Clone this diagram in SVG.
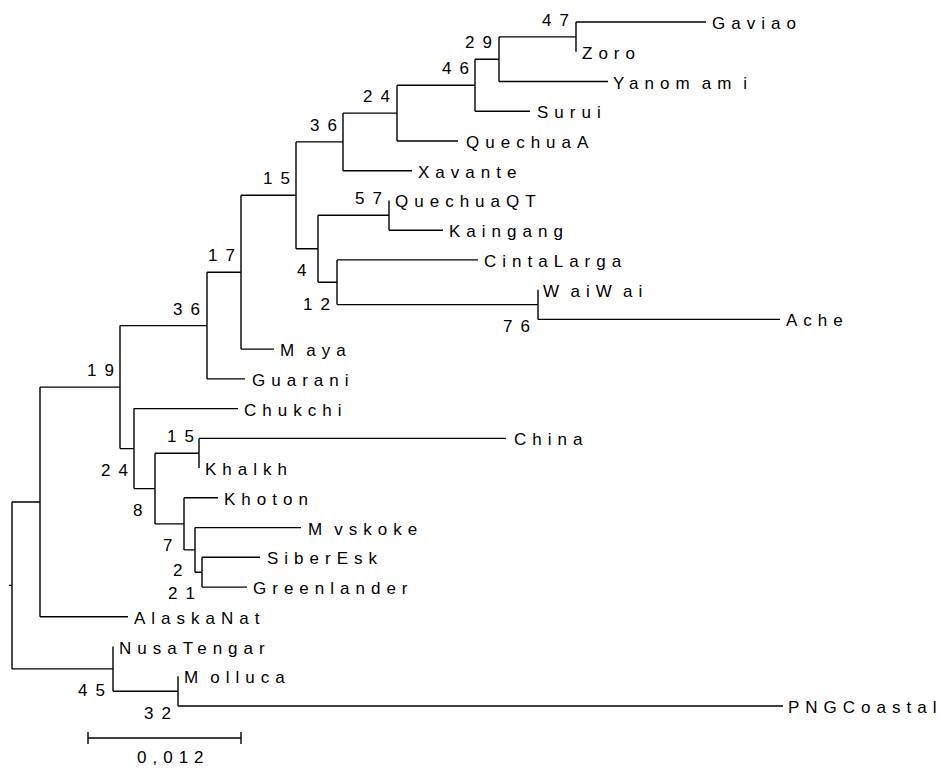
<svg xmlns="http://www.w3.org/2000/svg" width="943" height="770" viewBox="0 0 943 770">
<style>
.t{font-family:"Liberation Sans",Arial,sans-serif;font-size:17px;letter-spacing:6px;fill:#000}
.b{font-family:"Liberation Sans",Arial,sans-serif;font-size:17px;letter-spacing:8px;fill:#000}
.e{fill:none;stroke:#000;stroke-width:1.4}
</style>
<rect width="943" height="770" fill="#fff"/>
<g id="connectors">
<path class="e" d="M9,585.4H12 M12,502V668.9
M12,502H40 M40,387.1V616.8 M40,616.8H128
M40,387.1H120 M120,325.6V448.6
M120,325.6H207 M207,272.2V378.9 M207,378.9H245
M207,272.2H241 M241,195.3V349.1 M241,349.1H274
M241,195.3H296 M296,141.9V248.8
M296,141.9H343 M343,113.1V170.7 M343,170.7H412
M343,113.1H397 M397,85.2V141 M397,141H458
M397,85.2H475 M475,59.2V111.2 M475,111.2H530
M475,59.2H499 M499,36.9V81.5 M499,81.5H608
M499,36.9H576 M576,22V51.7 M576,22H706
M296,248.8H318 M318,215.3V282.2
M318,215.3H389 M389,200.4V230.2 M389,230.2H443
M318,282.2H337 M337,259.9V304.6 M337,259.9H478
M337,304.6H538 M538,289.7V319.4 M538,319.4H780
M120,448.6H134 M134,408.6V488.6 M134,408.6H238
M134,488.6H155 M155,453.2V523.9
M155,453.2H199 M199,438.4V468.1 M199,438.4H506
M155,523.9H184 M184,497.8V549.9 M184,497.8H218
M184,549.9H195 M195,527.6V572.2 M195,527.6H301
M195,572.2H202 M202,557.3V587.1 M202,557.3H260 M202,587.1H247
M12,668.9H113 M113,646.5V691.2
M113,691.2H178 M178,676.3V706 M178,706H783"/>
</g>
<g id="scale-bar">
<path class="e" d="M88,738H241 M88,732V744 M241,732V744"/>
<text class="t" x="137" y="763">0,012</text>
</g>
<g id="tip-Gaviao"><text class="t" x="712" y="29">Gaviao</text></g>
<g id="tip-Zoro"><text class="t" x="582" y="58.7">Zoro</text></g>
<g id="tip-Yanomami"><text class="t" x="613" y="88.5" dx="0 0 0 0 0 6 0 6">Yanomami</text></g>
<g id="tip-Surui"><text class="t" x="537" y="118.2">Surui</text></g>
<g id="tip-QuechuaA"><text class="t" x="466" y="148">QuechuaA</text></g>
<g id="tip-Xavante"><text class="t" x="418" y="177.7">Xavante</text></g>
<g id="tip-QuechuaQT"><text class="t" x="395" y="207.4">QuechuaQT</text></g>
<g id="tip-Kaingang"><text class="t" x="449" y="237.2">Kaingang</text></g>
<g id="tip-CintaLarga"><text class="t" x="484" y="266.9">CintaLarga</text></g>
<g id="tip-WaiWai"><text class="t" x="543" y="296.7" dx="0 6 0 0 6 0">WaiWai</text></g>
<g id="tip-Ache"><text class="t" x="786" y="326.4">Ache</text></g>
<g id="tip-Maya"><text class="t" x="280" y="356.1" dx="0 6">Maya</text></g>
<g id="tip-Guarani"><text class="t" x="252" y="385.9">Guarani</text></g>
<g id="tip-Chukchi"><text class="t" x="244" y="415.6">Chukchi</text></g>
<g id="tip-China"><text class="t" x="514" y="445.4">China</text></g>
<g id="tip-Khalkh"><text class="t" x="205" y="475.1">Khalkh</text></g>
<g id="tip-Khoton"><text class="t" x="224" y="504.8">Khoton</text></g>
<g id="tip-Mvskoke"><text class="t" x="308" y="534.6" dx="0 6">Mvskoke</text></g>
<g id="tip-SiberEsk"><text class="t" x="267" y="564.3">SiberEsk</text></g>
<g id="tip-Greenlander"><text class="t" x="253" y="594.1">Greenlander</text></g>
<g id="tip-AlaskaNat"><text class="t" x="134" y="623.8">AlaskaNat</text></g>
<g id="tip-NusaTengar"><text class="t" x="119" y="653.5">NusaTengar</text></g>
<g id="tip-Molluca"><text class="t" x="184" y="683.3" dx="0 6">Molluca</text></g>
<g id="tip-PNGCoastal"><text class="t" x="788" y="713">PNGCoastal</text></g>
<g id="node-47"><text class="b" x="542" y="26">47</text></g>
<g id="node-29"><text class="b" x="465" y="48.2">29</text></g>
<g id="node-46"><text class="b" x="442" y="74.2">46</text></g>
<g id="node-24a"><text class="b" x="363" y="102.1">24</text></g>
<g id="node-36a"><text class="b" x="310" y="130.9">36</text></g>
<g id="node-15a"><text class="b" x="263" y="184.3">15</text></g>
<g id="node-57"><text class="b" x="355" y="204.3">57</text></g>
<g id="node-4"><text class="b" x="297" y="276.3">4</text></g>
<g id="node-12"><text class="b" x="303" y="309.7">12</text></g>
<g id="node-76"><text class="b" x="503" y="332.1">76</text></g>
<g id="node-17"><text class="b" x="208" y="261.2">17</text></g>
<g id="node-36b"><text class="b" x="173" y="314.6">36</text></g>
<g id="node-19"><text class="b" x="87" y="376.1">19</text></g>
<g id="node-24b"><text class="b" x="101" y="476.1">24</text></g>
<g id="node-15b"><text class="b" x="167" y="442.2">15</text></g>
<g id="node-8"><text class="b" x="133" y="516.1">8</text></g>
<g id="node-7"><text class="b" x="163" y="551.4">7</text></g>
<g id="node-2"><text class="b" x="173" y="576">2</text></g>
<g id="node-21"><text class="b" x="168" y="598.5">21</text></g>
<g id="node-45"><text class="b" x="78" y="696.4">45</text></g>
<g id="node-32"><text class="b" x="144" y="718.7">32</text></g>
</svg>
